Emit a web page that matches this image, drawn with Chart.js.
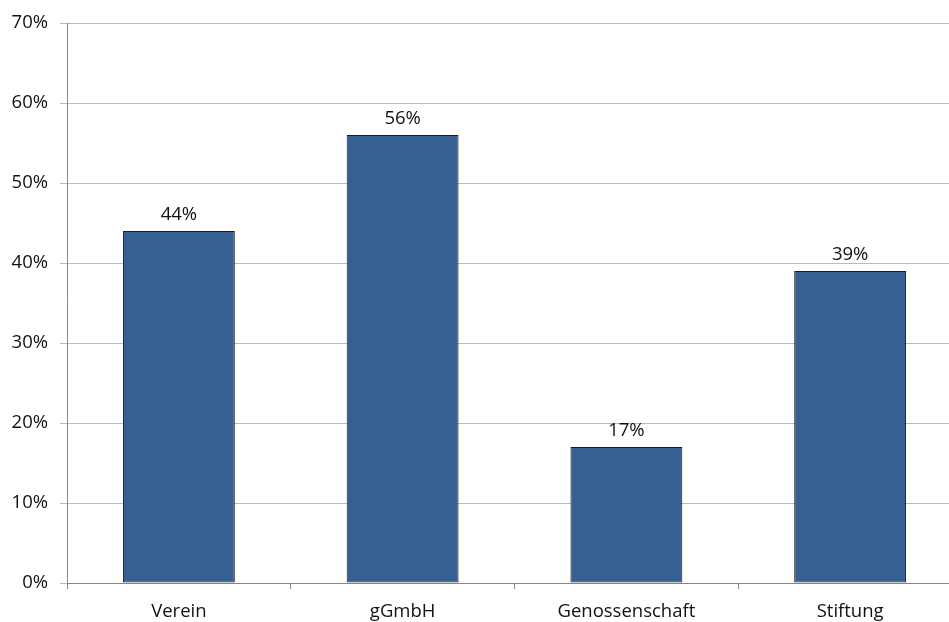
<!DOCTYPE html>
<html>
<head>
<meta charset="utf-8">
<script src="https://cdn.jsdelivr.net/npm/chart.js@4/dist/chart.umd.min.js"></script>
<style>
  html, body { margin: 0; padding: 0; background: #fff; }
  /* the original plot runs past the right edge, so the canvas is a bit wider than the window */
  #wrap { width: 949px; height: 622px; overflow: hidden; }
  #chart { display: block; }
</style>
</head>
<body>
<div id="wrap"><canvas id="chart" width="962" height="622"></canvas></div>
<script>
const categories = ['Verein', 'gGmbH', 'Genossenschaft', 'Stiftung'];
const shares = [44, 56, 17, 39];
const yTicks = [0, 10, 20, 30, 40, 50, 60, 70];

const FONT = '"Open Sans", "Noto Sans", sans-serif';
const FONT_SIZE = 18.5;

// labels above the bars
const valueLabels = {
    id: 'valueLabels',
    afterDatasetsDraw(chart) {
        const ctx = chart.ctx;
        const meta = chart.getDatasetMeta(0);
        ctx.save();
        ctx.font = FONT_SIZE + 'px ' + FONT;
        ctx.fillStyle = '#111';
        ctx.textAlign = 'center';
        ctx.textBaseline = 'alphabetic';
        meta.data.forEach((bar, i) => {
            ctx.fillText(shares[i] + '%', bar.x, bar.y - 11);
        });
        ctx.restore();
    }
};

new Chart(document.getElementById('chart').getContext('2d'), {
    type: 'bar',
    data: {
        labels: categories,
        datasets: [{
            data: shares,
            backgroundColor: '#376092',
            borderColor: '#1c1c1c',
            borderWidth: 1,
            borderSkipped: false,
            barPercentage: 1,
            categoryPercentage: 0.5
        }]
    },
    options: {
        responsive: false,
        animation: false,
        devicePixelRatio: 1,
        layout: { padding: { top: 21, right: 0, left: 0, bottom: 0 } },
        plugins: {
            legend: { display: false },
            tooltip: { enabled: false }
        },
        scales: {
            x: {
                offset: true,
                grid: {
                    offset: true,
                    drawOnChartArea: false,
                    tickLength: 6,
                    color: '#868686'
                },
                border: { color: '#868686' },
                ticks: {
                    color: '#111',
                    font: { family: FONT, size: FONT_SIZE },
                    padding: 12
                },
                afterFit(scale) { scale.height = 39; }
            },
            y: {
                min: 0,
                max: 70,
                afterBuildTicks(scale) {
                    scale.ticks = yTicks.map(v => ({ value: v }));
                },
                grid: {
                    color: '#bababa',
                    tickLength: 7
                },
                border: { color: '#868686' },
                ticks: {
                    color: '#111',
                    font: { family: FONT, size: FONT_SIZE },
                    padding: 12,
                    callback: v => v + '%'
                },
                afterFit(scale) { scale.width = 67; }
            }
        }
    },
    plugins: [valueLabels]
});
</script>
</body>
</html>
